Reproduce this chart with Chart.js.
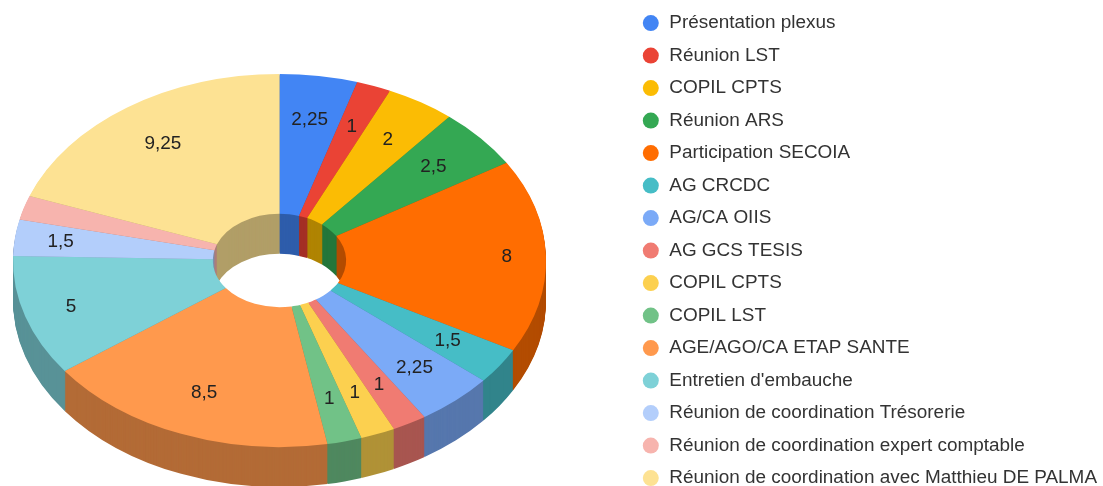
<!DOCTYPE html>
<html>
<head>
<meta charset="utf-8">
<script src="https://cdn.jsdelivr.net/npm/chart.js@4"></script>
<style>
  html, body { margin: 0; padding: 0; background: #fff; overflow: hidden; }
  #wrap { width: 1103px; height: 486px; overflow: hidden; }
  canvas { display: block; }
</style>
</head>
<body>
<div id="wrap"><canvas id="chart" width="1107" height="510"></canvas></div>
<script>
var categories = [
  "Présentation plexus",
  "Réunion LST",
  "COPIL CPTS",
  "Réunion ARS",
  "Participation SECOIA",
  "AG CRCDC",
  "AG/CA OIIS",
  "AG GCS TESIS",
  "COPIL CPTS",
  "COPIL LST",
  "AGE/AGO/CA ETAP SANTE",
  "Entretien d'embauche",
  "Réunion de coordination Trésorerie",
  "Réunion de coordination expert comptable",
  "Réunion de coordination avec Matthieu DE PALMA",
];
var hours = [2.25, 1, 2, 2.5, 8, 1.5, 2.25, 1, 1, 1, 8.5, 5, 1.5, 1, 9.25];
// the reference leaves the small pink slice without a label
var value_labels = ["2,25", "1", "2", "2,5", "8", "1,5", "2,25", "1", "1", "1", "8,5", "5", "1,5", "", "9,25"];
var slice_colors = [
  "#4285F4", "#EA4335", "#FBBC04", "#34A853", "#FF6D01",
  "#46BDC6", "#7BAAF7", "#F07B72", "#FCD04F", "#71C287",
  "#FF994D", "#7ED1D7", "#B3CEFB", "#F7B4AE", "#FDE293",
];

const center_x = 279.5;
const center_y = 260.5;
const tilt = 0.7;
const depth = 40;
const wall_shade = 0.7;

function darken(hex) {
  var parts = [1, 3, 5].map((i) => Math.round(parseInt(hex.substr(i, 2), 16) * wall_shade));
  return "rgb(" + parts.join(",") + ")";
}

function draw_layer(ctx, arcs, dy, get_color) {
  arcs.forEach((arc, i) => {
    ctx.save();
    ctx.translate(center_x, center_y + dy);
    ctx.scale(1, tilt);
    ctx.translate(-arc.x, -arc.y);
    var saved = arc.options;
    arc.options = Object.assign({}, saved, { backgroundColor: get_color(i) });
    arc.draw(ctx);
    arc.options = saved;
    ctx.restore();
  });
}

// labels near the widest part of the ellipse sit further out
function label_radius(sin) {
  var side = Math.abs(sin);
  var push = Math.max(0, Math.min(1, (side - 0.85) / 0.1));
  return 0.765 + 0.055 * push + 0.035 * Math.pow(side, 200);
}

// Chart.js has no 3D doughnut, so tilt the arcs and stack them to get the walls
const tilted_doughnut = {
  id: "tilted_doughnut",
  beforeDatasetsDraw(chart) {
    var ctx = chart.ctx;
    var arcs = chart.getDatasetMeta(0).data;

    for (var dy = depth; dy > 0; dy--) {
      draw_layer(ctx, arcs, dy, (i) => darken(slice_colors[i]));
    }
    draw_layer(ctx, arcs, 0, (i) => slice_colors[i]);

    ctx.save();
    ctx.font = "18.93px 'Liberation Sans'";
    ctx.fillStyle = "#222";
    ctx.textAlign = "center";
    ctx.textBaseline = "middle";
    arcs.forEach((arc, i) => {
      var mid = (arc.startAngle + arc.endAngle) / 2;
      var r = arc.outerRadius * label_radius(Math.cos(mid));
      var x = center_x + r * Math.cos(mid);
      var y = center_y + r * tilt * Math.sin(mid);
      ctx.fillText(value_labels[i], x, y);
    });
    ctx.restore();
    return false;
  },
};

new Chart(document.getElementById("chart"), {
  type: "doughnut",
  data: {
    labels: categories,
    datasets: [{ data: hours, backgroundColor: slice_colors, borderWidth: 0 }],
  },
  options: {
    responsive: false,
    animation: false,
    radius: 266.5,
    cutout: "25%",
    plugins: {
      tooltip: { enabled: false },
      legend: {
        position: "right",
        align: "start",
        labels: {
          usePointStyle: true,
          pointStyle: "circle",
          boxWidth: 18,
          boxHeight: 11.3,
          padding: 13.57,
          color: "#333",
          font: { family: "'Liberation Sans'", size: 18.93 },
        },
      },
    },
  },
  plugins: [tilted_doughnut],
});
</script>
</body>
</html>
